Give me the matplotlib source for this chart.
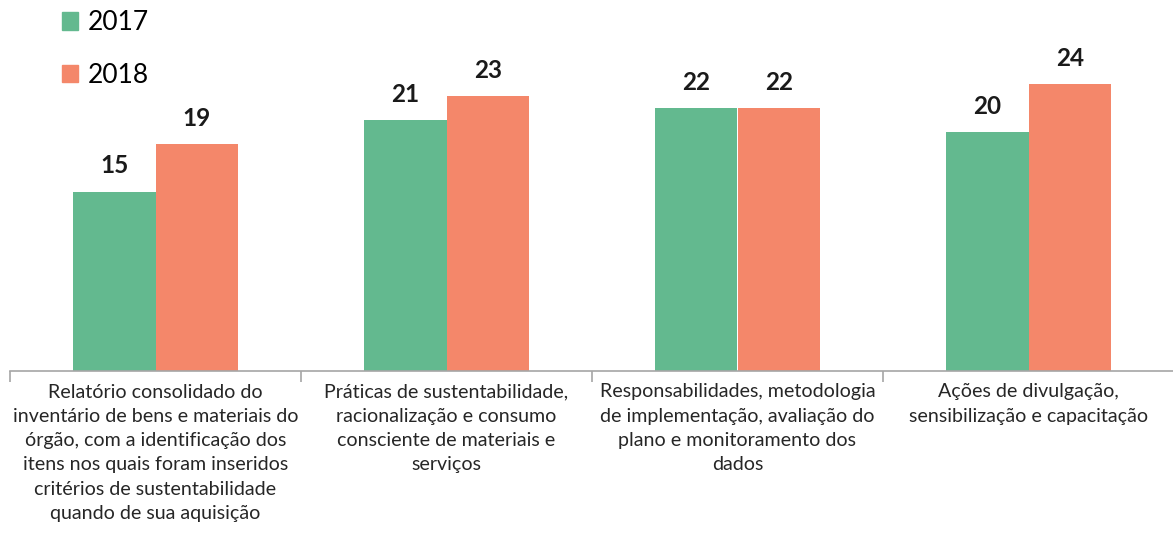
import matplotlib.pyplot as plt
import numpy as np
from matplotlib.patches import Patch

categories = [
    "Relatório consolidado do\ninventário de bens e materiais do\nórgão, com a identificação dos\nitens nos quais foram inseridos\ncritérios de sustentabilidade\nquando de sua aquisição",
    "Práticas de sustentabilidade,\nracionalização e consumo\nconsciente de materiais e\nserviços",
    "Responsabilidades, metodologia\nde implementação, avaliação do\nplano e monitoramento dos\ndados",
    "Ações de divulgação,\nsensibilização e capacitação",
]
years = ["2017", "2018"]
values_2017 = [15, 21, 22, 20]
values_2018 = [19, 23, 22, 24]
colors = ["#63b98f", "#f4876a"]

plt.rcParams['font.family'] = ['Lato', 'DejaVu Sans']

fig = plt.figure(figsize=(11.73, 5.38), dpi=100)
ax = fig.add_axes([10 / 1173, 167 / 538, 1164 / 1173, 371 / 538])

x = np.arange(len(categories))
w = 0.285
b1 = ax.bar(x - w / 2, values_2017, w, color=colors[0], label=years[0])
b2 = ax.bar(x + w / 2, values_2018, w, color=colors[1], label=years[1])

for bars in (b1, b2):
    for bar in bars:
        h = bar.get_height()
        ax.text(bar.get_x() + bar.get_width() / 2, h + 1.2, f"{h:.0f}",
                ha="center", va="bottom", fontsize=17.5, fontweight="bold",
                color="#1a1a1a")

ax.set_xlim(-0.5, len(categories) - 0.5)
ax.set_ylim(0, 31.05)
ax.set_yticks([])
for s in ["top", "right", "left"]:
    ax.spines[s].set_visible(False)
ax.spines["bottom"].set_color("#a6a6a6")
ax.spines["bottom"].set_linewidth(1.2)

# boundary ticks and centered labels
ax.set_xticks(np.arange(-0.5, len(categories)), minor=False)
ax.set_xticklabels([])
ax.tick_params(axis="x", which="major", length=8, color="#a6a6a6", width=1.2)
ax.set_xticks(x, minor=True)
ax.set_xticklabels(categories, minor=True, fontsize=14.1, color="#262626",
                   linespacing=1.52)
ax.tick_params(axis="x", which="minor", length=0, pad=9)

handles = [Patch(color=c, label=y) for c, y in zip(colors, years)]
fig.legend(handles=handles, loc="upper left", bbox_to_anchor=(38 / 1173, 1.025),
           frameon=False, fontsize=19, handlelength=0.62, handleheight=0.62,
           handletextpad=0.35, labelspacing=1.05)

fig.savefig("out.png", dpi=100)
